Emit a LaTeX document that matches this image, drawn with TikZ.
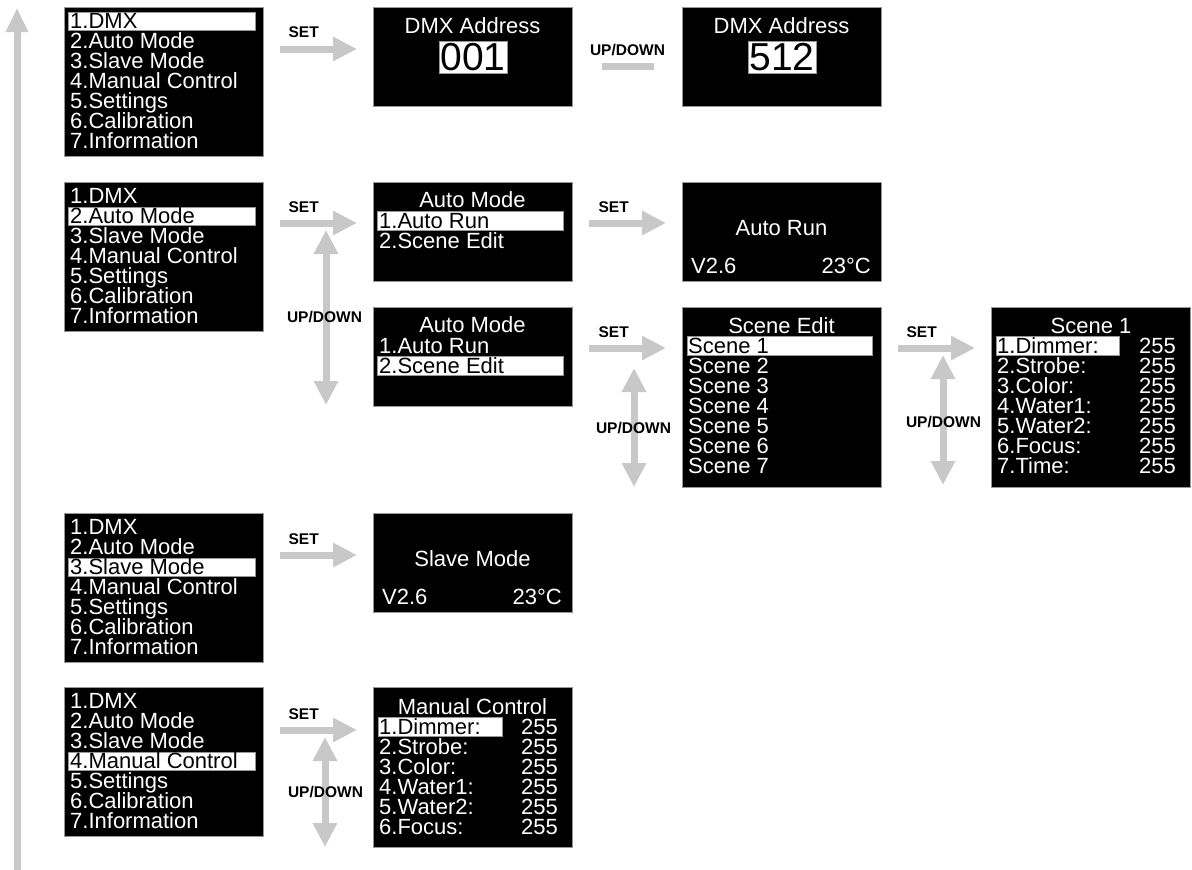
\documentclass[tikz,border=0pt]{standalone}
\usepackage{fontspec}
\setmainfont{Liberation Sans}
\newfontfamily\lcd{Liberation Sans}
\newfontfamily\lcdplain{Liberation Sans}
\usetikzlibrary{arrows.meta,calc}
\definecolor{arrgray}{RGB}{200,200,200}
\definecolor{edgegray}{RGB}{150,150,150}
\tikzset{
  scr/.style={rectangle, fill=black, draw=edgegray, line width=0.7pt, inner sep=0pt, anchor=north west},
  hl/.style={rectangle, fill=white, draw=edgegray, line width=0.6pt, inner sep=0pt, anchor=north west},
  txt/.style={inner sep=0pt, text=white, font=\lcd\fontsize{22}{20}\selectfont},
  lbl/.style={inner sep=0pt, text=black, font=\lcd\bfseries\fontsize{15.5}{15}\selectfont, anchor=base},
  setarrow/.style={draw=arrgray, line width=7pt, -{Triangle[width=23pt,length=24pt]}},
  udarrow/.style={draw=arrgray, line width=7pt, {Triangle[width=23pt,length=24pt]}-{Triangle[width=23pt,length=24pt]}},
  backarrow/.style={draw=arrgray, line width=7pt, -{Triangle[width=21pt,length=24pt]}},
  udbar/.style={draw=arrgray, line width=7pt},
  numbox/.style={rectangle, fill=white, draw=edgegray, line width=0.6pt, inner sep=0pt, minimum width=68pt, minimum height=32pt, text=black, font=\lcdplain\fontsize{39}{39}\selectfont},
}
\newcommand\mainmenu[4]{%
  \node[scr, minimum width=199pt, minimum height=149pt] (#1) at (#2,#3) {};
  \node[hl, minimum width=187pt, minimum height=18.5pt] (#1hl) at ($(#1.north west)+(4,{20*(#4-1)+4.5})$) {};
  \foreach \i/\t in {1/1.DMX,2/2.Auto Mode,3/3.Slave Mode,4/4.Manual Control,5/5.Settings,6/6.Calibration,7/7.Information}{%
    \ifnum\i=#4\relax\def\tc{black}\else\def\tc{white}\fi
    \node[txt, text=\tc, anchor=base west] (#1l\i) at ($(#1.north west)+(6,{21.5+20*(\i-1)})$) {\t};
  }%
}
\newcommand\automenu[3]{% name, y, highlight
  \node[scr, minimum width=199pt, minimum height=99pt] (#1) at (373,#2) {};
  \node[txt, anchor=base] (#1t) at ($(#1.north west)+(99.5,25.5)$) {Auto Mode};
  \node[hl, minimum width=186pt, minimum height=19pt] (#1hl) at ($(#1.north west)+(4,{29+20*(#3-1)})$) {};
  \foreach \i/\t in {1/1.Auto Run,2/2.Scene Edit}{%
    \ifnum\i=#3\relax\def\tc{black}\else\def\tc{white}\fi
    \node[txt, text=\tc, anchor=base west] (#1l\i) at ($(#1.north west)+(6,{46+20*(\i-1)})$) {\t};
  }%
}
\newcommand\statusscr[4]{% name, x, y, title
  \node[scr, minimum width=199pt, minimum height=99pt] (#1) at (#2,#3) {};
  \node[txt, anchor=base] (#1t) at ($(#1.north west)+(99.5,53)$) {#4};
  \node[txt, anchor=base west] (#1v) at ($(#1.north west)+(9,91)$) {V2.6};
  \node[txt, anchor=base east] (#1c) at ($(#1.north west)+(189,91)$) {23°C};
}
\begin{document}
\begin{tikzpicture}[x=1pt,y=-1pt]
\useasboundingbox (0,0) rectangle (1192,870);

% return arrow on the left
\coordinate (backstart) at (17,870);
\coordinate (backend) at (17,8);
\draw[backarrow] (backstart) -- (backend);

% ---------- row 1 : DMX ----------
\mainmenu{m1}{64}{7}{1}
\node[scr, minimum width=199pt, minimum height=99pt] (d1) at (373,7) {};
\node[txt, anchor=base] (d1t) at ($(d1.north west)+(99.5,26)$) {DMX Address};
\node[numbox] (d1n) at ($(d1.north west)+(100,50)$) {001};
\node[scr, minimum width=199pt, minimum height=99pt] (d2) at (682,7) {};
\node[txt, anchor=base] (d2t) at ($(d2.north west)+(99.5,26)$) {DMX Address};
\node[numbox] (d2n) at ($(d2.north west)+(100,50)$) {512};
\draw[setarrow] ($(m1.north east)+(16,42)$) -- ($(d1.north west)+(-16,42)$);
\node[lbl] (set1) at ($(m1.north east)+(40,30)$) {SET};
\draw[udbar] ($(d1.north east)+(29,59.5)$) -- ($(d2.north west)+(-28,59.5)$);
\node[lbl] (ud0) at (627.5,55) {UP/DOWN};

% ---------- row 2 : Auto mode ----------
\mainmenu{m2}{64}{182}{2}
\automenu{a1}{182}{1}
\automenu{a2}{307}{2}
\statusscr{ar}{682}{182}{Auto Run}
\draw[setarrow] ($(m2.north east)+(16,41)$) -- ($(a1.north west)+(-16,41)$);
\node[lbl] (set2) at ($(m2.north east)+(40,30)$) {SET};
\draw[setarrow] ($(a1.north east)+(16,41)$) -- ($(ar.north west)+(-16,41)$);
\node[lbl] (set3) at ($(a1.north east)+(41,30)$) {SET};
\coordinate (v1top) at (326,230);
\coordinate (v1bot) at (326,405);
\draw[udarrow] (v1top) -- (v1bot);
\node[lbl] (ud1) at (324.5,322) {UP/DOWN};

% Scene Edit
\node[scr, minimum width=199pt, minimum height=180pt] (se) at (682,307) {};
\node[txt, anchor=base] (set) at ($(se.north west)+(99.5,26)$) {Scene Edit};
\node[hl, minimum width=185pt, minimum height=19pt] (sehl) at ($(se.north west)+(5,29)$) {};
\foreach \i in {1,...,7}{%
  \ifnum\i=1\relax\def\tc{black}\else\def\tc{white}\fi
  \node[txt, text=\tc, anchor=base west] (sel\i) at ($(se.north west)+(6,{46+20*(\i-1)})$) {Scene \i};
}
\draw[setarrow] ($(a2.north east)+(16,41)$) -- ($(se.north west)+(-16,41)$);
\node[lbl] (set4) at ($(a2.north east)+(41,30)$) {SET};
\coordinate (v2top) at (634,368);
\coordinate (v2bot) at (634,487);
\draw[udarrow] (v2top) -- (v2bot);
\node[lbl] (ud2) at (633.5,433) {UP/DOWN};

% Scene 1
\node[scr, minimum width=199pt, minimum height=180pt] (sc) at (991,307) {};
\node[txt, anchor=base] (sct) at ($(sc.north west)+(100,26)$) {Scene 1};
\node[hl, minimum width=123pt, minimum height=19pt] (schl) at ($(sc.north west)+(5,29)$) {};
\foreach \i/\t in {1/1.Dimmer:,2/2.Strobe:,3/3.Color:,4/4.Water1:,5/5.Water2:,6/6.Focus:,7/7.Time:}{%
  \ifnum\i=1\relax\def\tc{black}\else\def\tc{white}\fi
  \node[txt, text=\tc, anchor=base west] (scl\i) at ($(sc.north west)+(6,{46+20*(\i-1)})$) {\t};
  \node[txt, anchor=base east] (scv\i) at ($(sc.north west)+(185,{46+20*(\i-1)})$) {255};
}
\draw[setarrow] ($(se.north east)+(16,41)$) -- ($(sc.north west)+(-16,41)$);
\node[lbl] (set5) at ($(se.north east)+(40,30)$) {SET};
\coordinate (v3top) at (943,355);
\coordinate (v3bot) at (943,485);
\draw[udarrow] (v3top) -- (v3bot);
\node[lbl] (ud3) at (943.5,427) {UP/DOWN};

% ---------- row 3 : Slave mode ----------
\mainmenu{m3}{64}{513}{3}
\statusscr{sl}{373}{513}{Slave Mode}
\draw[setarrow] ($(m3.north east)+(16,42)$) -- ($(sl.north west)+(-16,42)$);
\node[lbl] (set6) at ($(m3.north east)+(40,31)$) {SET};

% ---------- row 4 : Manual control ----------
\mainmenu{m4}{64}{687}{4}
\node[scr, minimum width=199pt, minimum height=160pt] (mc) at (373,687) {};
\node[txt, anchor=base] (mct) at ($(mc.north west)+(99.5,27)$) {Manual Control};
\node[hl, minimum width=124pt, minimum height=19pt] (mchl) at ($(mc.north west)+(5,30)$) {};
\foreach \i/\t in {1/1.Dimmer:,2/2.Strobe:,3/3.Color:,4/4.Water1:,5/5.Water2:,6/6.Focus:}{%
  \ifnum\i=1\relax\def\tc{black}\else\def\tc{white}\fi
  \node[txt, text=\tc, anchor=base west] (mcl\i) at ($(mc.north west)+(6,{47+20*(\i-1)})$) {\t};
  \node[txt, anchor=base east] (mcv\i) at ($(mc.north west)+(185,{47+20*(\i-1)})$) {255};
}
\draw[setarrow] ($(m4.north east)+(16,43)$) -- ($(mc.north west)+(-16,43)$);
\node[lbl] (set7) at ($(m4.north east)+(40,32)$) {SET};
\coordinate (v4top) at (325,737);
\coordinate (v4bot) at (325,847);
\draw[udarrow] (v4top) -- (v4bot);
\node[lbl] (ud4) at (325.5,797) {UP/DOWN};
\end{tikzpicture}
\end{document}
